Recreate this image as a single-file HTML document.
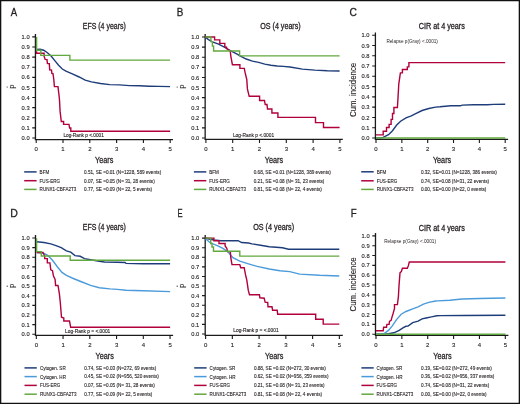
<!DOCTYPE html>
<html><head><meta charset="utf-8"><title>Figure</title>
<style>
html,body{margin:0;padding:0;background:#fff;}
body{width:520px;height:404px;overflow:hidden;}
svg{display:block;will-change:transform;font-family:"Liberation Sans",sans-serif;}
svg text{fill:#231f20;}
svg text.b{stroke:#231f20;stroke-width:0.3px;}
svg text.m{stroke:#231f20;stroke-width:0.12px;}
</style></head><body>
<svg width="520" height="404" viewBox="0 0 520 404">
<defs><filter id="bl" x="0" y="0" width="1" height="1"><feGaussianBlur stdDeviation="0.35"/></filter></defs>
<rect x="0" y="0" width="520" height="404" fill="#fff"/>
<g filter="url(#bl)">
<path d="M35.45,34.10 V140.20 M34.85,139.60 H173.00" stroke="#1a1a1a" stroke-width="1.3" fill="none"/>
<path d="M32.25,138.00 H35.45 M32.25,127.89 H35.45 M32.25,117.78 H35.45 M32.25,107.67 H35.45 M32.25,97.56 H35.45 M32.25,87.45 H35.45 M32.25,77.34 H35.45 M32.25,67.23 H35.45 M32.25,57.12 H35.45 M32.25,47.01 H35.45 M32.25,36.90 H35.45 M36.20,139.60 V143.10 M63.00,139.60 V143.10 M89.80,139.60 V143.10 M116.60,139.60 V143.10 M143.40,139.60 V143.10 M170.20,139.60 V143.10 " stroke="#1a1a1a" stroke-width="1.1" fill="none"/>
<text x="29.60" y="140.10" font-size="6.0" text-anchor="end" textLength="8.00" lengthAdjust="spacingAndGlyphs" class="m">0.0</text>
<text x="29.60" y="129.99" font-size="6.0" text-anchor="end" textLength="8.00" lengthAdjust="spacingAndGlyphs" class="m">0.1</text>
<text x="29.60" y="119.88" font-size="6.0" text-anchor="end" textLength="8.00" lengthAdjust="spacingAndGlyphs" class="m">0.2</text>
<text x="29.60" y="109.77" font-size="6.0" text-anchor="end" textLength="8.00" lengthAdjust="spacingAndGlyphs" class="m">0.3</text>
<text x="29.60" y="99.66" font-size="6.0" text-anchor="end" textLength="8.00" lengthAdjust="spacingAndGlyphs" class="m">0.4</text>
<text x="29.60" y="89.55" font-size="6.0" text-anchor="end" textLength="8.00" lengthAdjust="spacingAndGlyphs" class="m">0.5</text>
<text x="29.60" y="79.44" font-size="6.0" text-anchor="end" textLength="8.00" lengthAdjust="spacingAndGlyphs" class="m">0.6</text>
<text x="29.60" y="69.33" font-size="6.0" text-anchor="end" textLength="8.00" lengthAdjust="spacingAndGlyphs" class="m">0.7</text>
<text x="29.60" y="59.22" font-size="6.0" text-anchor="end" textLength="8.00" lengthAdjust="spacingAndGlyphs" class="m">0.8</text>
<text x="29.60" y="49.11" font-size="6.0" text-anchor="end" textLength="8.00" lengthAdjust="spacingAndGlyphs" class="m">0.9</text>
<text x="29.60" y="39.00" font-size="6.0" text-anchor="end" textLength="8.00" lengthAdjust="spacingAndGlyphs" class="m">1.0</text>
<text x="36.20" y="150.50" font-size="6.0" text-anchor="middle" class="m">0</text>
<text x="63.00" y="150.50" font-size="6.0" text-anchor="middle" class="m">1</text>
<text x="89.80" y="150.50" font-size="6.0" text-anchor="middle" class="m">2</text>
<text x="116.60" y="150.50" font-size="6.0" text-anchor="middle" class="m">3</text>
<text x="143.40" y="150.50" font-size="6.0" text-anchor="middle" class="m">4</text>
<text x="170.20" y="150.50" font-size="6.0" text-anchor="middle" class="m">5</text>
<path d="M205.15,34.10 V140.00 M204.55,139.40 H342.80" stroke="#1a1a1a" stroke-width="1.3" fill="none"/>
<path d="M201.95,138.00 H205.15 M201.95,127.91 H205.15 M201.95,117.81 H205.15 M201.95,107.72 H205.15 M201.95,97.62 H205.15 M201.95,87.53 H205.15 M201.95,77.43 H205.15 M201.95,67.34 H205.15 M201.95,57.24 H205.15 M201.95,47.14 H205.15 M201.95,37.05 H205.15 M205.90,139.40 V142.90 M232.70,139.40 V142.90 M259.50,139.40 V142.90 M286.30,139.40 V142.90 M313.10,139.40 V142.90 M339.90,139.40 V142.90 " stroke="#1a1a1a" stroke-width="1.1" fill="none"/>
<text x="199.30" y="140.10" font-size="6.0" text-anchor="end" textLength="8.00" lengthAdjust="spacingAndGlyphs" class="m">0.0</text>
<text x="199.30" y="130.00" font-size="6.0" text-anchor="end" textLength="8.00" lengthAdjust="spacingAndGlyphs" class="m">0.1</text>
<text x="199.30" y="119.91" font-size="6.0" text-anchor="end" textLength="8.00" lengthAdjust="spacingAndGlyphs" class="m">0.2</text>
<text x="199.30" y="109.81" font-size="6.0" text-anchor="end" textLength="8.00" lengthAdjust="spacingAndGlyphs" class="m">0.3</text>
<text x="199.30" y="99.72" font-size="6.0" text-anchor="end" textLength="8.00" lengthAdjust="spacingAndGlyphs" class="m">0.4</text>
<text x="199.30" y="89.62" font-size="6.0" text-anchor="end" textLength="8.00" lengthAdjust="spacingAndGlyphs" class="m">0.5</text>
<text x="199.30" y="79.53" font-size="6.0" text-anchor="end" textLength="8.00" lengthAdjust="spacingAndGlyphs" class="m">0.6</text>
<text x="199.30" y="69.44" font-size="6.0" text-anchor="end" textLength="8.00" lengthAdjust="spacingAndGlyphs" class="m">0.7</text>
<text x="199.30" y="59.34" font-size="6.0" text-anchor="end" textLength="8.00" lengthAdjust="spacingAndGlyphs" class="m">0.8</text>
<text x="199.30" y="49.24" font-size="6.0" text-anchor="end" textLength="8.00" lengthAdjust="spacingAndGlyphs" class="m">0.9</text>
<text x="199.30" y="39.15" font-size="6.0" text-anchor="end" textLength="8.00" lengthAdjust="spacingAndGlyphs" class="m">1.0</text>
<text x="205.90" y="150.50" font-size="6.0" text-anchor="middle" class="m">0</text>
<text x="232.70" y="150.50" font-size="6.0" text-anchor="middle" class="m">1</text>
<text x="259.50" y="150.50" font-size="6.0" text-anchor="middle" class="m">2</text>
<text x="286.30" y="150.50" font-size="6.0" text-anchor="middle" class="m">3</text>
<text x="313.10" y="150.50" font-size="6.0" text-anchor="middle" class="m">4</text>
<text x="339.90" y="150.50" font-size="6.0" text-anchor="middle" class="m">5</text>
<path d="M375.40,32.50 V140.00 M374.80,139.40 H508.10" stroke="#1a1a1a" stroke-width="1.3" fill="none"/>
<path d="M372.20,138.00 H375.40 M372.20,127.72 H375.40 M372.20,117.44 H375.40 M372.20,107.16 H375.40 M372.20,96.88 H375.40 M372.20,86.60 H375.40 M372.20,76.32 H375.40 M372.20,66.04 H375.40 M372.20,55.76 H375.40 M372.20,45.48 H375.40 M372.20,35.20 H375.40 M376.00,139.40 V142.90 M401.84,139.40 V142.90 M427.68,139.40 V142.90 M453.52,139.40 V142.90 M479.36,139.40 V142.90 M505.20,139.40 V142.90 " stroke="#1a1a1a" stroke-width="1.1" fill="none"/>
<text x="369.40" y="140.10" font-size="6.0" text-anchor="end" textLength="8.00" lengthAdjust="spacingAndGlyphs" class="m">0.0</text>
<text x="369.40" y="129.82" font-size="6.0" text-anchor="end" textLength="8.00" lengthAdjust="spacingAndGlyphs" class="m">0.1</text>
<text x="369.40" y="119.54" font-size="6.0" text-anchor="end" textLength="8.00" lengthAdjust="spacingAndGlyphs" class="m">0.2</text>
<text x="369.40" y="109.26" font-size="6.0" text-anchor="end" textLength="8.00" lengthAdjust="spacingAndGlyphs" class="m">0.3</text>
<text x="369.40" y="98.98" font-size="6.0" text-anchor="end" textLength="8.00" lengthAdjust="spacingAndGlyphs" class="m">0.4</text>
<text x="369.40" y="88.70" font-size="6.0" text-anchor="end" textLength="8.00" lengthAdjust="spacingAndGlyphs" class="m">0.5</text>
<text x="369.40" y="78.42" font-size="6.0" text-anchor="end" textLength="8.00" lengthAdjust="spacingAndGlyphs" class="m">0.6</text>
<text x="369.40" y="68.14" font-size="6.0" text-anchor="end" textLength="8.00" lengthAdjust="spacingAndGlyphs" class="m">0.7</text>
<text x="369.40" y="57.86" font-size="6.0" text-anchor="end" textLength="8.00" lengthAdjust="spacingAndGlyphs" class="m">0.8</text>
<text x="369.40" y="47.58" font-size="6.0" text-anchor="end" textLength="8.00" lengthAdjust="spacingAndGlyphs" class="m">0.9</text>
<text x="369.40" y="37.30" font-size="6.0" text-anchor="end" textLength="8.00" lengthAdjust="spacingAndGlyphs" class="m">1.0</text>
<text x="376.00" y="150.50" font-size="6.0" text-anchor="middle" class="m">0</text>
<text x="401.84" y="150.50" font-size="6.0" text-anchor="middle" class="m">1</text>
<text x="427.68" y="150.50" font-size="6.0" text-anchor="middle" class="m">2</text>
<text x="453.52" y="150.50" font-size="6.0" text-anchor="middle" class="m">3</text>
<text x="479.36" y="150.50" font-size="6.0" text-anchor="middle" class="m">4</text>
<text x="505.20" y="150.50" font-size="6.0" text-anchor="middle" class="m">5</text>
<path d="M35.50,235.10 V336.00 M34.90,335.40 H173.10" stroke="#1a1a1a" stroke-width="1.3" fill="none"/>
<path d="M32.30,334.20 H35.50 M32.30,324.58 H35.50 M32.30,314.96 H35.50 M32.30,305.34 H35.50 M32.30,295.72 H35.50 M32.30,286.10 H35.50 M32.30,276.48 H35.50 M32.30,266.86 H35.50 M32.30,257.24 H35.50 M32.30,247.62 H35.50 M32.30,238.00 H35.50 M36.30,335.40 V338.90 M63.05,335.40 V338.90 M89.80,335.40 V338.90 M116.55,335.40 V338.90 M143.30,335.40 V338.90 M170.05,335.40 V338.90 " stroke="#1a1a1a" stroke-width="1.1" fill="none"/>
<text x="29.60" y="336.30" font-size="6.0" text-anchor="end" textLength="8.00" lengthAdjust="spacingAndGlyphs" class="m">0.0</text>
<text x="29.60" y="326.68" font-size="6.0" text-anchor="end" textLength="8.00" lengthAdjust="spacingAndGlyphs" class="m">0.1</text>
<text x="29.60" y="317.06" font-size="6.0" text-anchor="end" textLength="8.00" lengthAdjust="spacingAndGlyphs" class="m">0.2</text>
<text x="29.60" y="307.44" font-size="6.0" text-anchor="end" textLength="8.00" lengthAdjust="spacingAndGlyphs" class="m">0.3</text>
<text x="29.60" y="297.82" font-size="6.0" text-anchor="end" textLength="8.00" lengthAdjust="spacingAndGlyphs" class="m">0.4</text>
<text x="29.60" y="288.20" font-size="6.0" text-anchor="end" textLength="8.00" lengthAdjust="spacingAndGlyphs" class="m">0.5</text>
<text x="29.60" y="278.58" font-size="6.0" text-anchor="end" textLength="8.00" lengthAdjust="spacingAndGlyphs" class="m">0.6</text>
<text x="29.60" y="268.96" font-size="6.0" text-anchor="end" textLength="8.00" lengthAdjust="spacingAndGlyphs" class="m">0.7</text>
<text x="29.60" y="259.34" font-size="6.0" text-anchor="end" textLength="8.00" lengthAdjust="spacingAndGlyphs" class="m">0.8</text>
<text x="29.60" y="249.72" font-size="6.0" text-anchor="end" textLength="8.00" lengthAdjust="spacingAndGlyphs" class="m">0.9</text>
<text x="29.60" y="240.10" font-size="6.0" text-anchor="end" textLength="8.00" lengthAdjust="spacingAndGlyphs" class="m">1.0</text>
<text x="36.30" y="346.50" font-size="6.0" text-anchor="middle" class="m">0</text>
<text x="63.05" y="346.50" font-size="6.0" text-anchor="middle" class="m">1</text>
<text x="89.80" y="346.50" font-size="6.0" text-anchor="middle" class="m">2</text>
<text x="116.55" y="346.50" font-size="6.0" text-anchor="middle" class="m">3</text>
<text x="143.30" y="346.50" font-size="6.0" text-anchor="middle" class="m">4</text>
<text x="170.05" y="346.50" font-size="6.0" text-anchor="middle" class="m">5</text>
<path d="M205.20,235.10 V336.00 M204.60,335.40 H342.80" stroke="#1a1a1a" stroke-width="1.3" fill="none"/>
<path d="M202.00,334.00 H205.20 M202.00,324.41 H205.20 M202.00,314.82 H205.20 M202.00,305.23 H205.20 M202.00,295.64 H205.20 M202.00,286.05 H205.20 M202.00,276.46 H205.20 M202.00,266.87 H205.20 M202.00,257.28 H205.20 M202.00,247.69 H205.20 M202.00,238.10 H205.20 M205.60,335.40 V338.90 M232.35,335.40 V338.90 M259.10,335.40 V338.90 M285.85,335.40 V338.90 M312.60,335.40 V338.90 M339.35,335.40 V338.90 " stroke="#1a1a1a" stroke-width="1.1" fill="none"/>
<text x="199.30" y="336.10" font-size="6.0" text-anchor="end" textLength="8.00" lengthAdjust="spacingAndGlyphs" class="m">0.0</text>
<text x="199.30" y="326.51" font-size="6.0" text-anchor="end" textLength="8.00" lengthAdjust="spacingAndGlyphs" class="m">0.1</text>
<text x="199.30" y="316.92" font-size="6.0" text-anchor="end" textLength="8.00" lengthAdjust="spacingAndGlyphs" class="m">0.2</text>
<text x="199.30" y="307.33" font-size="6.0" text-anchor="end" textLength="8.00" lengthAdjust="spacingAndGlyphs" class="m">0.3</text>
<text x="199.30" y="297.74" font-size="6.0" text-anchor="end" textLength="8.00" lengthAdjust="spacingAndGlyphs" class="m">0.4</text>
<text x="199.30" y="288.15" font-size="6.0" text-anchor="end" textLength="8.00" lengthAdjust="spacingAndGlyphs" class="m">0.5</text>
<text x="199.30" y="278.56" font-size="6.0" text-anchor="end" textLength="8.00" lengthAdjust="spacingAndGlyphs" class="m">0.6</text>
<text x="199.30" y="268.97" font-size="6.0" text-anchor="end" textLength="8.00" lengthAdjust="spacingAndGlyphs" class="m">0.7</text>
<text x="199.30" y="259.38" font-size="6.0" text-anchor="end" textLength="8.00" lengthAdjust="spacingAndGlyphs" class="m">0.8</text>
<text x="199.30" y="249.79" font-size="6.0" text-anchor="end" textLength="8.00" lengthAdjust="spacingAndGlyphs" class="m">0.9</text>
<text x="199.30" y="240.20" font-size="6.0" text-anchor="end" textLength="8.00" lengthAdjust="spacingAndGlyphs" class="m">1.0</text>
<text x="205.60" y="346.50" font-size="6.0" text-anchor="middle" class="m">0</text>
<text x="232.35" y="346.50" font-size="6.0" text-anchor="middle" class="m">1</text>
<text x="259.10" y="346.50" font-size="6.0" text-anchor="middle" class="m">2</text>
<text x="285.85" y="346.50" font-size="6.0" text-anchor="middle" class="m">3</text>
<text x="312.60" y="346.50" font-size="6.0" text-anchor="middle" class="m">4</text>
<text x="339.35" y="346.50" font-size="6.0" text-anchor="middle" class="m">5</text>
<path d="M375.50,233.10 V336.00 M374.90,335.40 H508.40" stroke="#1a1a1a" stroke-width="1.3" fill="none"/>
<path d="M372.30,334.20 H375.50 M372.30,324.37 H375.50 M372.30,314.54 H375.50 M372.30,304.71 H375.50 M372.30,294.88 H375.50 M372.30,285.05 H375.50 M372.30,275.22 H375.50 M372.30,265.39 H375.50 M372.30,255.56 H375.50 M372.30,245.73 H375.50 M372.30,235.90 H375.50 M376.00,335.40 V338.90 M401.86,335.40 V338.90 M427.72,335.40 V338.90 M453.58,335.40 V338.90 M479.44,335.40 V338.90 M505.30,335.40 V338.90 " stroke="#1a1a1a" stroke-width="1.1" fill="none"/>
<text x="369.60" y="336.30" font-size="6.0" text-anchor="end" textLength="8.00" lengthAdjust="spacingAndGlyphs" class="m">0.0</text>
<text x="369.60" y="326.47" font-size="6.0" text-anchor="end" textLength="8.00" lengthAdjust="spacingAndGlyphs" class="m">0.1</text>
<text x="369.60" y="316.64" font-size="6.0" text-anchor="end" textLength="8.00" lengthAdjust="spacingAndGlyphs" class="m">0.2</text>
<text x="369.60" y="306.81" font-size="6.0" text-anchor="end" textLength="8.00" lengthAdjust="spacingAndGlyphs" class="m">0.3</text>
<text x="369.60" y="296.98" font-size="6.0" text-anchor="end" textLength="8.00" lengthAdjust="spacingAndGlyphs" class="m">0.4</text>
<text x="369.60" y="287.15" font-size="6.0" text-anchor="end" textLength="8.00" lengthAdjust="spacingAndGlyphs" class="m">0.5</text>
<text x="369.60" y="277.32" font-size="6.0" text-anchor="end" textLength="8.00" lengthAdjust="spacingAndGlyphs" class="m">0.6</text>
<text x="369.60" y="267.49" font-size="6.0" text-anchor="end" textLength="8.00" lengthAdjust="spacingAndGlyphs" class="m">0.7</text>
<text x="369.60" y="257.66" font-size="6.0" text-anchor="end" textLength="8.00" lengthAdjust="spacingAndGlyphs" class="m">0.8</text>
<text x="369.60" y="247.83" font-size="6.0" text-anchor="end" textLength="8.00" lengthAdjust="spacingAndGlyphs" class="m">0.9</text>
<text x="369.60" y="238.00" font-size="6.0" text-anchor="end" textLength="8.00" lengthAdjust="spacingAndGlyphs" class="m">1.0</text>
<text x="376.00" y="346.50" font-size="6.0" text-anchor="middle" class="m">0</text>
<text x="401.86" y="346.50" font-size="6.0" text-anchor="middle" class="m">1</text>
<text x="427.72" y="346.50" font-size="6.0" text-anchor="middle" class="m">2</text>
<text x="453.58" y="346.50" font-size="6.0" text-anchor="middle" class="m">3</text>
<text x="479.44" y="346.50" font-size="6.0" text-anchor="middle" class="m">4</text>
<text x="505.30" y="346.50" font-size="6.0" text-anchor="middle" class="m">5</text>
<text x="10.70" y="15.80" font-size="11.2" text-anchor="start" textLength="6.40" lengthAdjust="spacingAndGlyphs" class="b">A</text>
<text x="176.80" y="15.80" font-size="11.2" text-anchor="start" textLength="6.60" lengthAdjust="spacingAndGlyphs" class="b">B</text>
<text x="349.40" y="15.90" font-size="11.2" text-anchor="start" textLength="7.40" lengthAdjust="spacingAndGlyphs" class="b">C</text>
<text x="10.30" y="216.80" font-size="11.2" text-anchor="start" textLength="7.60" lengthAdjust="spacingAndGlyphs" class="b">D</text>
<text x="177.50" y="216.80" font-size="11.2" text-anchor="start" textLength="5.10" lengthAdjust="spacingAndGlyphs" class="b">E</text>
<text x="350.70" y="216.80" font-size="11.2" text-anchor="start" textLength="5.90" lengthAdjust="spacingAndGlyphs" class="b">F</text>
<text x="82.80" y="28.90" font-size="8.7" text-anchor="start" textLength="43.00" lengthAdjust="spacingAndGlyphs" class="b">EFS (4 years)</text>
<text x="260.20" y="28.90" font-size="8.7" text-anchor="start" textLength="40.50" lengthAdjust="spacingAndGlyphs" class="b">OS (4 years)</text>
<text x="418.70" y="29.00" font-size="8.7" text-anchor="start" textLength="46.20" lengthAdjust="spacingAndGlyphs" class="b">CIR at 4 years</text>
<text x="82.80" y="230.30" font-size="8.7" text-anchor="start" textLength="43.00" lengthAdjust="spacingAndGlyphs" class="b">EFS (4 years)</text>
<text x="253.20" y="230.30" font-size="8.7" text-anchor="start" textLength="40.90" lengthAdjust="spacingAndGlyphs" class="b">OS (4 years)</text>
<text x="418.70" y="230.60" font-size="8.7" text-anchor="start" textLength="46.20" lengthAdjust="spacingAndGlyphs" class="b">CIR at 4 years</text>
<text x="95.10" y="163.30" font-size="9.5" text-anchor="start" textLength="18.30" lengthAdjust="spacingAndGlyphs" class="b">Years</text>
<text x="264.80" y="163.30" font-size="9.5" text-anchor="start" textLength="18.30" lengthAdjust="spacingAndGlyphs" class="b">Years</text>
<text x="432.90" y="163.30" font-size="9.5" text-anchor="start" textLength="18.30" lengthAdjust="spacingAndGlyphs" class="b">Years</text>
<text x="95.50" y="358.70" font-size="9.5" text-anchor="start" textLength="18.30" lengthAdjust="spacingAndGlyphs" class="b">Years</text>
<text x="265.00" y="358.70" font-size="9.5" text-anchor="start" textLength="18.30" lengthAdjust="spacingAndGlyphs" class="b">Years</text>
<text x="433.30" y="358.70" font-size="9.5" text-anchor="start" textLength="18.30" lengthAdjust="spacingAndGlyphs" class="b">Years</text>
<text x="0" y="0" font-size="7.5" class="m" transform="translate(13.5,86.7) rotate(-90)" text-anchor="middle">p</text>
<circle cx="7.20" cy="87.00" r="0.6" fill="#231f20"/>
<text x="0" y="0" font-size="7.5" class="m" transform="translate(183.5,86.7) rotate(-90)" text-anchor="middle">p</text>
<circle cx="177.20" cy="87.00" r="0.6" fill="#231f20"/>
<text x="0" y="0" font-size="7.5" class="m" transform="translate(13.5,285.9) rotate(-90)" text-anchor="middle">p</text>
<circle cx="7.20" cy="286.20" r="0.6" fill="#231f20"/>
<text x="0" y="0" font-size="7.5" class="m" transform="translate(183.5,285.9) rotate(-90)" text-anchor="middle">p</text>
<circle cx="177.20" cy="286.20" r="0.6" fill="#231f20"/>
<text transform="translate(355.6,117.0) rotate(-90)" font-size="8.9" class="m" textLength="54.2" lengthAdjust="spacingAndGlyphs">Cum. incidence</text>
<text transform="translate(356.0,311.5) rotate(-90)" font-size="8.9" class="m" textLength="54.2" lengthAdjust="spacingAndGlyphs">Cum. incidence</text>
<text x="63.40" y="136.70" font-size="4.9" text-anchor="start" textLength="40.40" lengthAdjust="spacingAndGlyphs" class="m">Log-Rank p &lt;.0001</text>
<text x="232.90" y="137.00" font-size="4.9" text-anchor="start" textLength="41.30" lengthAdjust="spacingAndGlyphs" class="m">Log-Rank p &lt;.0001</text>
<text x="65.10" y="333.30" font-size="4.6" text-anchor="start" textLength="45.20" lengthAdjust="spacingAndGlyphs" class="m">Log-Rank p = &lt;.0001</text>
<text x="233.30" y="331.60" font-size="4.6" text-anchor="start" textLength="45.30" lengthAdjust="spacingAndGlyphs" class="m">Log-Rank p = &lt;.0001</text>
<text x="386.40" y="42.90" font-size="4.9" text-anchor="start" textLength="51.50" lengthAdjust="spacingAndGlyphs">Relapse p(Gray) &lt;.0001)</text>
<text x="384.20" y="243.10" font-size="4.9" text-anchor="start" textLength="51.80" lengthAdjust="spacingAndGlyphs">Relapse p(Gray) &lt;.0001)</text>
<path d="M36.60,49.40 L40.00,49.20 L43.70,50.20 L47.40,52.70 L51.10,56.10 L54.80,60.60 L58.60,65.30 L62.30,69.00 L66.00,71.20 L70.00,72.80 L72.90,74.10 L79.10,77.00 L85.20,80.10 L91.40,81.90 L100.60,83.50 L109.70,84.60 L119.60,84.90 L129.50,85.60 L139.40,85.80 L149.30,86.20 L159.20,86.40 L170.10,86.60" fill="none" stroke="#1f3d7a" stroke-width="1.4" stroke-linejoin="miter"/>
<path d="M205.50,37.40 L208.50,39.60 L212.40,41.80 L218.60,44.20 L224.80,47.30 L230.90,51.00 L237.10,54.10 L240.00,55.80 L246.20,59.00 L252.40,61.10 L258.60,62.40 L264.80,64.10 L270.90,65.30 L277.10,66.00 L283.30,66.40 L290.00,67.00 L302.40,69.10 L314.80,70.10 L327.20,70.80 L339.60,71.00" fill="none" stroke="#1f3d7a" stroke-width="1.4" stroke-linejoin="miter"/>
<path d="M376.00,138.00 L381.00,137.90 L383.10,137.40 L388.50,134.70 L392.50,130.70 L396.50,125.30 L400.60,121.20 L406.00,117.90 L411.30,115.90 L416.70,113.20 L422.10,110.50 L428.80,108.50 L435.60,107.10 L440.00,106.80 L450.80,105.80 L460.20,105.80 L462.20,105.10 L473.60,104.80 L487.10,104.70 L493.80,104.40 L505.20,104.20" fill="none" stroke="#1f3d7a" stroke-width="1.4" stroke-linejoin="miter"/>
<path d="M36.60,241.80 L43.90,242.50 L50.80,243.90 L56.00,245.60 L61.20,247.70 L66.40,250.80 L70.70,252.20 L75.00,255.60 L80.20,256.30 L84.50,258.60 L90.60,259.80 L99.30,261.20 L104.50,262.00 L117.30,262.20 L125.10,262.50 L126.00,263.40 L143.30,263.70 L170.10,263.70" fill="none" stroke="#1f3d7a" stroke-width="1.4" stroke-linejoin="miter"/>
<path d="M205.60,238.30 L213.90,240.00 L220.80,240.70 L238.10,240.70 L241.60,242.50 L248.50,243.00 L252.00,243.90 L260.60,245.20 L269.30,246.80 L276.20,247.30 L282.40,247.80 L288.60,249.30 L339.30,249.30" fill="none" stroke="#1f3d7a" stroke-width="1.4" stroke-linejoin="miter"/>
<path d="M376.00,334.20 L386.00,334.00 L388.50,333.70 L393.80,332.80 L399.20,330.40 L403.30,327.70 L406.00,326.30 L408.00,326.10 L412.70,322.60 L418.10,321.20 L422.10,318.90 L426.10,318.00 L431.50,316.90 L436.90,315.80 L440.00,315.60 L462.10,315.50 L505.40,315.30" fill="none" stroke="#1f3d7a" stroke-width="1.4" stroke-linejoin="miter"/>
<path d="M36.60,252.50 L43.90,253.40 L47.30,255.10 L52.50,260.30 L57.70,267.20 L62.00,272.40 L66.40,275.40 L73.30,278.50 L82.00,282.00 L90.60,285.40 L99.30,287.70 L110.00,288.90 L117.30,289.40 L126.00,290.20 L143.30,290.70 L170.10,291.60" fill="none" stroke="#4c9bdb" stroke-width="1.4" stroke-linejoin="miter"/>
<path d="M205.60,238.70 L210.40,243.00 L217.30,245.60 L222.50,248.20 L227.70,251.60 L232.90,257.70 L239.80,261.20 L248.50,263.80 L257.10,266.40 L269.30,269.00 L279.90,270.80 L289.80,271.60 L299.70,274.10 L319.50,275.30 L339.30,276.00" fill="none" stroke="#4c9bdb" stroke-width="1.4" stroke-linejoin="miter"/>
<path d="M376.00,334.20 L383.00,334.00 L384.40,333.30 L388.50,330.40 L392.50,325.70 L396.50,319.60 L401.20,314.20 L406.00,311.50 L412.70,308.80 L418.10,306.80 L423.50,304.10 L428.80,302.40 L435.60,301.00 L437.40,300.90 L449.80,300.20 L462.10,299.00 L479.50,298.50 L491.80,298.20 L505.40,298.00" fill="none" stroke="#4c9bdb" stroke-width="1.4" stroke-linejoin="miter"/>
<path d="M36.60,51.30 L36.60,53.30 L44.10,53.30 L44.10,56.40 L45.20,59.40 L47.00,59.60 L47.40,63.40 L49.30,63.70 L49.70,69.80 L51.50,70.10 L51.90,73.50 L53.00,73.70 L53.80,79.50 L54.40,86.60 L58.00,86.60 L59.10,96.00 L59.50,100.00 L60.10,111.40 L61.30,121.50 L63.60,121.50 L63.60,124.40 L69.00,124.40 L69.60,128.00 L70.80,128.00 L70.80,131.30 L170.10,131.30" fill="none" stroke="#b1063a" stroke-width="1.4" stroke-linejoin="miter"/>
<path d="M205.50,37.00 L214.60,37.00 L214.60,39.90 L219.80,39.90 L219.80,43.40 L224.80,43.40 L224.80,46.70 L226.60,47.30 L226.60,48.60 L229.70,50.40 L230.30,51.70 L230.90,56.60 L232.40,64.70 L239.90,64.70 L239.90,68.40 L244.30,68.40 L245.00,72.20 L246.80,79.60 L247.40,88.90 L249.20,96.30 L259.60,96.30 L259.60,100.50 L264.50,100.50 L265.20,104.50 L267.00,104.50 L267.50,109.00 L271.90,109.00 L271.90,113.00 L277.90,113.00 L277.90,117.40 L315.50,117.40 L315.50,122.60 L323.50,122.60 L323.50,127.50 L339.60,127.50" fill="none" stroke="#b1063a" stroke-width="1.4" stroke-linejoin="miter"/>
<path d="M376.00,134.90 L383.20,134.90 L383.20,131.30 L386.50,131.30 L386.50,127.50 L389.10,127.50 L389.10,124.40 L391.10,124.40 L391.10,119.40 L392.50,119.40 L392.50,113.50 L393.90,113.50 L393.90,107.50 L397.40,107.50 L397.90,99.60 L398.80,83.80 L400.40,72.90 L402.40,72.90 L402.40,69.50 L407.30,69.50 L407.30,66.90 L408.90,66.90 L408.90,62.60 L505.20,62.60" fill="none" stroke="#b1063a" stroke-width="1.4" stroke-linejoin="miter"/>
<path d="M36.60,252.50 L43.00,252.50 L44.70,256.00 L44.70,258.60 L47.30,258.60 L47.30,262.90 L49.90,262.90 L50.80,269.80 L52.50,270.70 L53.40,275.90 L55.10,279.40 L55.60,285.50 L58.00,285.50 L59.40,293.90 L60.30,302.50 L61.50,317.20 L63.80,318.10 L63.80,321.00 L69.50,321.00 L70.70,327.30 L170.10,327.30" fill="none" stroke="#b1063a" stroke-width="1.4" stroke-linejoin="miter"/>
<path d="M205.60,238.10 L213.90,238.10 L213.90,240.70 L219.00,240.70 L219.00,243.50 L225.10,243.50 L225.10,246.00 L226.80,248.20 L227.50,251.60 L230.30,251.60 L230.80,257.70 L232.00,264.60 L239.80,264.60 L240.70,267.70 L244.20,267.70 L245.40,274.20 L246.80,280.20 L248.30,290.40 L249.50,294.70 L259.40,294.70 L259.90,297.80 L264.20,298.20 L265.10,302.20 L267.70,302.50 L268.00,306.80 L272.00,306.80 L272.60,310.30 L277.20,310.30 L277.70,314.30 L315.70,314.30 L315.70,319.20 L323.20,319.20 L323.20,324.10 L339.30,324.10" fill="none" stroke="#b1063a" stroke-width="1.4" stroke-linejoin="miter"/>
<path d="M376.00,330.70 L383.20,330.70 L383.60,327.30 L386.50,327.30 L386.90,324.40 L389.10,324.40 L389.50,321.40 L391.10,320.40 L391.90,317.40 L393.10,313.50 L394.50,308.50 L394.50,304.60 L397.40,304.60 L398.40,296.60 L399.00,285.70 L400.00,272.90 L401.40,271.50 L402.40,268.30 L407.30,268.30 L408.30,265.90 L409.30,262.00 L505.40,262.00" fill="none" stroke="#b1063a" stroke-width="1.4" stroke-linejoin="miter"/>
<path d="M36.60,36.90 L36.60,50.20 L40.80,50.20 L40.80,55.40 L69.90,55.40 L69.90,60.10 L170.10,60.10" fill="none" stroke="#62a83f" stroke-width="1.4" stroke-linejoin="miter"/>
<path d="M205.50,37.00 L210.90,37.00 L210.90,41.60 L212.40,41.60 L212.40,46.10 L213.60,46.10 L213.60,51.00 L239.60,51.00 L239.60,55.90 L339.60,55.90" fill="none" stroke="#62a83f" stroke-width="1.4" stroke-linejoin="miter"/>
<path d="M376.00,138.00 L505.20,138.00" fill="none" stroke="#62a83f" stroke-width="1.4" stroke-linejoin="miter"/>
<path d="M36.60,238.30 L36.60,251.60 L41.30,251.60 L41.30,256.00 L70.20,256.00 L70.20,260.30 L170.10,260.30" fill="none" stroke="#62a83f" stroke-width="1.4" stroke-linejoin="miter"/>
<path d="M205.60,238.10 L210.70,238.10 L210.70,243.50 L212.00,243.50 L212.00,247.00 L213.50,247.00 L213.50,251.30 L239.80,251.30 L239.80,256.10 L339.30,256.10" fill="none" stroke="#62a83f" stroke-width="1.4" stroke-linejoin="miter"/>
<path d="M376.00,334.20 L505.40,334.20" fill="none" stroke="#62a83f" stroke-width="1.4" stroke-linejoin="miter"/>
<line x1="24.2" y1="171.9" x2="36.6" y2="171.9" stroke="#1f3d7a" stroke-width="1.5"/>
<text x="39.60" y="173.80" font-size="5.6" text-anchor="start" textLength="9.60" lengthAdjust="spacingAndGlyphs" class="m">BFM</text>
<text x="84.00" y="173.70" font-size="5.4" text-anchor="start" textLength="77.20" lengthAdjust="spacingAndGlyphs" class="m">0.51, SE =0.01 (N=1228, 589 events)</text>
<line x1="24.2" y1="180.7" x2="36.6" y2="180.7" stroke="#b1063a" stroke-width="1.5"/>
<text x="39.60" y="182.60" font-size="5.6" text-anchor="start" textLength="20.47" lengthAdjust="spacingAndGlyphs" class="m">FUS-ERG</text>
<text x="84.00" y="182.50" font-size="5.4" text-anchor="start" textLength="70.72" lengthAdjust="spacingAndGlyphs" class="m">0.07, SE =0.05 (N= 31, 28 events)</text>
<line x1="24.2" y1="189.4" x2="36.6" y2="189.4" stroke="#62a83f" stroke-width="1.5"/>
<text x="39.60" y="191.30" font-size="5.6" text-anchor="start" textLength="36.66" lengthAdjust="spacingAndGlyphs" class="m">RUNX1-CBFA2T3</text>
<text x="84.00" y="191.20" font-size="5.4" text-anchor="start" textLength="68.13" lengthAdjust="spacingAndGlyphs" class="m">0.77, SE =0.09 (N= 22, 5 events)</text>
<line x1="193.89999999999998" y1="171.9" x2="206.29999999999998" y2="171.9" stroke="#1f3d7a" stroke-width="1.5"/>
<text x="209.30" y="173.80" font-size="5.6" text-anchor="start" textLength="9.60" lengthAdjust="spacingAndGlyphs" class="m">BFM</text>
<text x="253.70" y="173.70" font-size="5.4" text-anchor="start" textLength="77.20" lengthAdjust="spacingAndGlyphs" class="m">0.68, SE =0.01 (N=1228, 389 events)</text>
<line x1="193.89999999999998" y1="180.7" x2="206.29999999999998" y2="180.7" stroke="#b1063a" stroke-width="1.5"/>
<text x="209.30" y="182.60" font-size="5.6" text-anchor="start" textLength="20.47" lengthAdjust="spacingAndGlyphs" class="m">FUS-ERG</text>
<text x="253.70" y="182.50" font-size="5.4" text-anchor="start" textLength="70.72" lengthAdjust="spacingAndGlyphs" class="m">0.21, SE =0.08 (N= 31, 23 events)</text>
<line x1="193.89999999999998" y1="189.4" x2="206.29999999999998" y2="189.4" stroke="#62a83f" stroke-width="1.5"/>
<text x="209.30" y="191.30" font-size="5.6" text-anchor="start" textLength="36.66" lengthAdjust="spacingAndGlyphs" class="m">RUNX1-CBFA2T3</text>
<text x="253.70" y="191.20" font-size="5.4" text-anchor="start" textLength="68.13" lengthAdjust="spacingAndGlyphs" class="m">0.81, SE =0.08 (N= 22, 4 events)</text>
<line x1="361.2" y1="171.8" x2="373.7" y2="171.8" stroke="#1f3d7a" stroke-width="1.5"/>
<text x="376.80" y="173.70" font-size="5.6" text-anchor="start" textLength="9.60" lengthAdjust="spacingAndGlyphs" class="m">BFM</text>
<text x="420.90" y="173.60" font-size="5.4" text-anchor="start" textLength="75.90" lengthAdjust="spacingAndGlyphs" class="m">0.32, SE=0.01 (N=1228, 386 events)</text>
<line x1="361.2" y1="180.8" x2="373.7" y2="180.8" stroke="#b1063a" stroke-width="1.5"/>
<text x="376.80" y="182.70" font-size="5.6" text-anchor="start" textLength="20.47" lengthAdjust="spacingAndGlyphs" class="m">FUS-ERG</text>
<text x="420.90" y="182.60" font-size="5.4" text-anchor="start" textLength="68.13" lengthAdjust="spacingAndGlyphs" class="m">0.74, SE=0.08 (N=31, 22 events)</text>
<line x1="361.2" y1="189.4" x2="373.7" y2="189.4" stroke="#62a83f" stroke-width="1.5"/>
<text x="376.80" y="191.30" font-size="5.6" text-anchor="start" textLength="36.66" lengthAdjust="spacingAndGlyphs" class="m">RUNX1-CBFA2T3</text>
<text x="420.90" y="191.20" font-size="5.4" text-anchor="start" textLength="65.54" lengthAdjust="spacingAndGlyphs" class="m">0.00, SE=0.00 (N=22, 0 events)</text>
<line x1="24.5" y1="367.9" x2="36.8" y2="367.9" stroke="#1f3d7a" stroke-width="1.5"/>
<text x="39.90" y="369.80" font-size="5.6" text-anchor="start" textLength="25.79" lengthAdjust="spacingAndGlyphs" class="m">Cytogen. SR</text>
<text x="84.20" y="369.70" font-size="5.4" text-anchor="start" textLength="72.01" lengthAdjust="spacingAndGlyphs" class="m">0.74, SE =0.03 (N=272, 69 events)</text>
<line x1="24.5" y1="376.6" x2="36.8" y2="376.6" stroke="#4c9bdb" stroke-width="1.5"/>
<text x="39.90" y="378.50" font-size="5.6" text-anchor="start" textLength="26.05" lengthAdjust="spacingAndGlyphs" class="m">Cytogen. HR</text>
<text x="84.20" y="378.40" font-size="5.4" text-anchor="start" textLength="74.61" lengthAdjust="spacingAndGlyphs" class="m">0.45, SE =0.02 (N=956, 520 events)</text>
<line x1="24.5" y1="385.4" x2="36.8" y2="385.4" stroke="#b1063a" stroke-width="1.5"/>
<text x="39.90" y="387.30" font-size="5.6" text-anchor="start" textLength="20.47" lengthAdjust="spacingAndGlyphs" class="m">FUS-ERG</text>
<text x="84.20" y="387.20" font-size="5.4" text-anchor="start" textLength="70.72" lengthAdjust="spacingAndGlyphs" class="m">0.07, SE =0.05 (N= 31, 28 events)</text>
<line x1="24.5" y1="394.2" x2="36.8" y2="394.2" stroke="#62a83f" stroke-width="1.5"/>
<text x="39.90" y="396.10" font-size="5.6" text-anchor="start" textLength="36.66" lengthAdjust="spacingAndGlyphs" class="m">RUNX1-CBFA2T3</text>
<text x="84.20" y="396.00" font-size="5.4" text-anchor="start" textLength="68.13" lengthAdjust="spacingAndGlyphs" class="m">0.77, SE =0.09 (N= 22, 5 events)</text>
<line x1="194.2" y1="367.9" x2="206.6" y2="367.9" stroke="#1f3d7a" stroke-width="1.5"/>
<text x="209.60" y="369.80" font-size="5.6" text-anchor="start" textLength="25.79" lengthAdjust="spacingAndGlyphs" class="m">Cytogen. SR</text>
<text x="253.90" y="369.70" font-size="5.4" text-anchor="start" textLength="72.01" lengthAdjust="spacingAndGlyphs" class="m">0.88, SE =0.02 (N=272, 30 events)</text>
<line x1="194.2" y1="376.6" x2="206.6" y2="376.6" stroke="#4c9bdb" stroke-width="1.5"/>
<text x="209.60" y="378.50" font-size="5.6" text-anchor="start" textLength="26.05" lengthAdjust="spacingAndGlyphs" class="m">Cytogen. HR</text>
<text x="253.90" y="378.40" font-size="5.4" text-anchor="start" textLength="74.61" lengthAdjust="spacingAndGlyphs" class="m">0.62, SE =0.02 (N=956, 359 events)</text>
<line x1="194.2" y1="385.4" x2="206.6" y2="385.4" stroke="#b1063a" stroke-width="1.5"/>
<text x="209.60" y="387.30" font-size="5.6" text-anchor="start" textLength="20.47" lengthAdjust="spacingAndGlyphs" class="m">FUS-ERG</text>
<text x="253.90" y="387.20" font-size="5.4" text-anchor="start" textLength="70.72" lengthAdjust="spacingAndGlyphs" class="m">0.21, SE =0.08 (N= 31, 23 events)</text>
<line x1="194.2" y1="394.2" x2="206.6" y2="394.2" stroke="#62a83f" stroke-width="1.5"/>
<text x="209.60" y="396.10" font-size="5.6" text-anchor="start" textLength="36.66" lengthAdjust="spacingAndGlyphs" class="m">RUNX1-CBFA2T3</text>
<text x="253.90" y="396.00" font-size="5.4" text-anchor="start" textLength="68.13" lengthAdjust="spacingAndGlyphs" class="m">0.81, SE =0.08 (N= 22, 4 events)</text>
<line x1="361.4" y1="367.9" x2="373.7" y2="367.9" stroke="#1f3d7a" stroke-width="1.5"/>
<text x="376.60" y="369.80" font-size="5.6" text-anchor="start" textLength="25.79" lengthAdjust="spacingAndGlyphs" class="m">Cytogen. SR</text>
<text x="421.10" y="369.70" font-size="5.4" text-anchor="start" textLength="70.72" lengthAdjust="spacingAndGlyphs" class="m">0.19, SE=0.02 (N=272, 49 events)</text>
<line x1="361.4" y1="376.6" x2="373.7" y2="376.6" stroke="#4c9bdb" stroke-width="1.5"/>
<text x="376.60" y="378.50" font-size="5.6" text-anchor="start" textLength="26.05" lengthAdjust="spacingAndGlyphs" class="m">Cytogen. HR</text>
<text x="421.10" y="378.40" font-size="5.4" text-anchor="start" textLength="73.31" lengthAdjust="spacingAndGlyphs" class="m">0.36, SE=0.02 (N=956, 337 events)</text>
<line x1="361.4" y1="385.4" x2="373.7" y2="385.4" stroke="#b1063a" stroke-width="1.5"/>
<text x="376.60" y="387.30" font-size="5.6" text-anchor="start" textLength="20.47" lengthAdjust="spacingAndGlyphs" class="m">FUS-ERG</text>
<text x="421.10" y="387.20" font-size="5.4" text-anchor="start" textLength="68.13" lengthAdjust="spacingAndGlyphs" class="m">0.74, SE=0.08 (N=31, 22 events)</text>
<line x1="361.4" y1="394.2" x2="373.7" y2="394.2" stroke="#62a83f" stroke-width="1.5"/>
<text x="376.60" y="396.10" font-size="5.6" text-anchor="start" textLength="36.66" lengthAdjust="spacingAndGlyphs" class="m">RUNX1-CBFA2T3</text>
<text x="421.10" y="396.00" font-size="5.4" text-anchor="start" textLength="65.54" lengthAdjust="spacingAndGlyphs" class="m">0.00, SE=0.00 (N=22, 0 events)</text>
</g>
<rect x="0.65" y="0.6" width="518.7" height="402.8" fill="none" stroke="#111" stroke-width="1.3"/>
</svg>
</body></html>
